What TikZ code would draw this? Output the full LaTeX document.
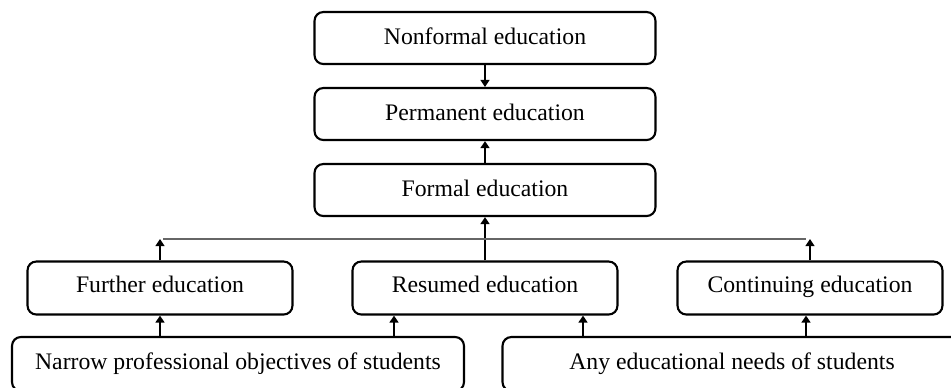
\documentclass[tikz,border=0pt]{standalone}
\usepackage{fontspec}
\setmainfont{Liberation Serif}
\usetikzlibrary{arrows.meta,positioning,calc}
\tikzset{
  edbox/.style={draw, rounded corners=5pt, line width=1.2pt, inner sep=0pt, align=center, text height=1.55ex, text depth=0.45ex, font=\fontsize{13.5}{16}\selectfont},
  lvl/.style={edbox, minimum width=6.82cm, minimum height=1.04cm, text height=1.9ex, text depth=0.2ex},
  kind/.style={edbox, minimum width=5.3cm, minimum height=1.06cm},
  need/.style={edbox, minimum height=1.08cm, text height=1.7ex, text depth=0.3ex},
  arr/.style={line width=1.6pt, -{Triangle[width=5pt,length=4pt]}},
  link/.style={draw=black!60, line width=0.6pt}
}
\begin{document}
\begin{tikzpicture}[x=0.02cm, y=-0.02cm]
\useasboundingbox (0,0) rectangle (951,387);
\clip (0,0) rectangle (951,387);
% upper chain
\node[lvl] (nonf) at (485,38) {Nonformal education};
\node[lvl] (perm) at (485,114) {Permanent education};
\node[lvl] (form) at (485,190) {Formal education};
% kinds of formal education
\node[kind] (fur) at (160,288) {Further education};
\node[kind] (res) at (485,288) {Resumed education};
\node[kind] (cont) at (810,288) {Continuing education};
% needs of students
\node[need, minimum width=9.04cm] (narrow) at (238,364) {Narrow professional objectives of students};
\node[need, minimum width=9.18cm] (any) at (732,364) {Any educational needs of students};
\draw[arr] (nonf) -- (perm);
\draw[arr] (form) -- (perm);
\draw[arr] (res) -- (form);
% thin line joining the kinds
\coordinate (hlL) at (163,239);
\coordinate (hlR) at (806,239);
\draw[link] (hlL) -- (hlR);
\draw[arr] (fur.north) -- (fur.north |- hlL);
\draw[arr] (cont.north) -- (cont.north |- hlR);
% from needs up to kinds
\coordinate (n1) at (160,337);
\coordinate (n2) at (394,337);
\coordinate (a1) at (583,337);
\coordinate (a2) at (806,337);
\draw[arr] (n1) -- (n1 |- fur.south);
\draw[arr] (n2) -- (n2 |- res.south);
\draw[arr] (a1) -- (a1 |- res.south);
\draw[arr] (a2) -- (a2 |- cont.south);
\end{tikzpicture}
\end{document}
